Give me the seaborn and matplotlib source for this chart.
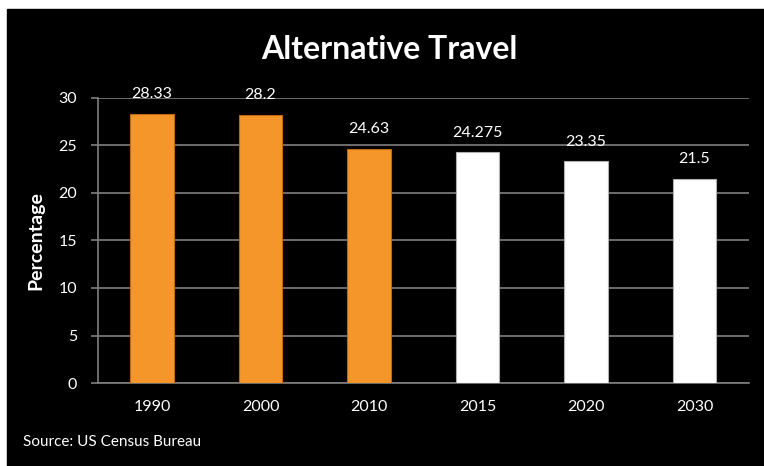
import matplotlib
matplotlib.use("Agg")
import matplotlib.pyplot as plt
import seaborn as sns
import pandas as pd
from matplotlib.patches import Rectangle

# data
years = ["1990", "2000", "2010", "2015", "2020", "2030"]
values = [28.33, 28.2, 24.63, 24.275, 23.35, 21.5]
labels = ["28.33", "28.2", "24.63", "24.275", "23.35", "21.5"]
bar_colors = ["#F5962A", "#F5962A", "#F5962A", "#FFFFFF", "#FFFFFF", "#FFFFFF"]

df = pd.DataFrame({"year": years, "pct": values})

sns.set_style("dark")
plt.rcParams["font.family"] = ["Lato", "DejaVu Sans"]

fig = plt.figure(figsize=(7.64, 4.66), dpi=100, facecolor="white")
# black panel, leaving a thin white strip on top and left
fig.patches.append(Rectangle((7 / 764, 0), 1 - 7 / 764, 1 - 9 / 466,
                             transform=fig.transFigure, color="black", zorder=-5))
ax = fig.add_axes([0.128, 0.178, 0.852, 0.612])
ax.set_facecolor("black")

sns.barplot(data=df, x="year", y="pct", hue="year", palette=bar_colors,
            saturation=1, legend=False, width=0.4, ax=ax, zorder=3,
            edgecolor="#B0B0B0", linewidth=0.8)

# darker edge for the orange bars
for patch, c in zip(ax.patches, bar_colors):
    if c != "#FFFFFF":
        patch.set_edgecolor("#C06A10")

for cont, lab in zip(ax.containers, labels):
    ax.bar_label(cont, labels=[lab], padding=9, color="white", fontsize=11.5)

ax.set_ylim(0, 30)
ax.set_yticks(range(0, 31, 5))
ax.set_axisbelow(True)
ax.yaxis.grid(True, color="#7F7F7F", linewidth=1.2)
ax.xaxis.grid(False)
for s in ["top", "right"]:
    ax.spines[s].set_visible(False)
ax.spines["left"].set_color("#7F7F7F")
ax.spines["bottom"].set_color("#7F7F7F")
ax.spines["left"].set_linewidth(1.2)
ax.spines["bottom"].set_linewidth(1.2)
ax.tick_params(axis="y", colors="#7F7F7F", labelcolor="white", labelsize=11.5,
               length=5, width=1.2, left=True, pad=10)
ax.tick_params(axis="x", labelcolor="white", labelsize=11.5, length=0, pad=12)
ax.set_xlabel("")
ax.set_ylabel("Percentage", color="white", fontsize=14, fontweight="bold", labelpad=10)

fig.text(0.509, 0.893, "Alternative Travel", color="white", fontsize=23,
         fontweight="bold", ha="center", va="center")
fig.text(0.03, 0.052, "Source: US Census Bureau", color="white", fontsize=11,
         ha="left", va="center")

fig.savefig("out.png", dpi=100, facecolor="white")
